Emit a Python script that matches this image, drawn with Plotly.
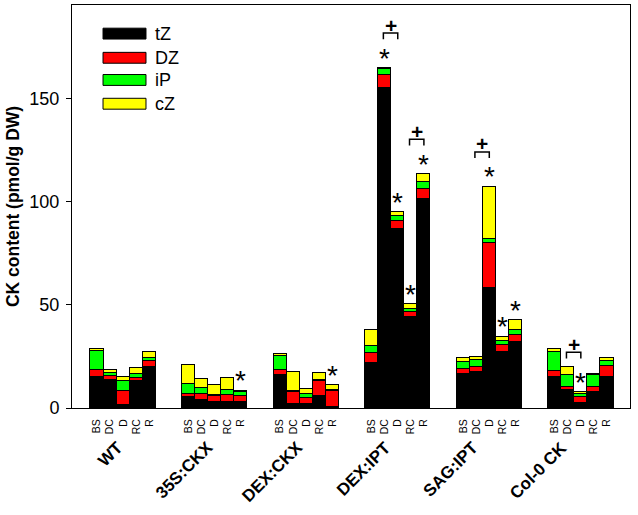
import plotly.graph_objects as go

# ---------------- data ----------------
groups = ["WT", "35S:CKX", "DEX:CKX", "DEX:IPT", "SAG:IPT", "Col-0 CK"]
samples = ["BS", "DC", "D", "RC", "R"]

tZ = [
    [15.0, 13.8, 1.6, 12.9, 19.7],
    [5.3, 3.7, 2.8, 2.8, 2.8],
    [16.2, 2.0, 2.1, 6.0, 0.5],
    [21.7, 155.2, 86.7, 44.3, 101.6],
    [16.5, 17.5, 58.1, 27.3, 32.2],
    [14.9, 8.7, 2.3, 7.9, 14.9],
]
DZ = [
    [3.6, 1.6, 6.5, 1.9, 2.9],
    [1.6, 3.2, 3.2, 3.7, 3.2],
    [2.1, 6.0, 2.8, 7.0, 7.9],
    [5.2, 6.5, 4.2, 2.4, 4.5],
    [2.3, 2.3, 21.8, 3.2, 3.2],
    [3.2, 1.6, 3.0, 2.4, 5.5],
]
iP = [
    [9.2, 1.6, 4.9, 1.8, 1.6],
    [4.9, 2.6, 0.5, 2.1, 1.6],
    [6.8, 0.3, 1.9, 0.6, 0.5],
    [3.2, 2.8, 2.2, 1.3, 3.7],
    [3.4, 3.4, 1.9, 1.9, 2.6],
    [9.2, 5.7, 1.6, 5.7, 2.4],
]
cZ = [
    [1.0, 1.6, 2.1, 2.8, 2.8],
    [8.9, 4.7, 4.9, 6.0, 0.8],
    [1.3, 9.2, 2.6, 3.2, 2.1],
    [7.8, 0.5, 2.0, 2.4, 3.6],
    [2.0, 1.7, 25.5, 2.2, 4.5],
    [1.1, 4.0, 0.8, 0.6, 1.3],
]
# significance marks: (group index, sample index)
stars = [(1, 4), (2, 4), (3, 1), (3, 2), (3, 3), (3, 4), (4, 2), (4, 3), (4, 4), (5, 2)]
# "+" brackets: (group index, sample i, sample j)
plus_pairs = [(3, 1, 2), (3, 3, 4), (4, 1, 2), (5, 1, 2)]

components = [("tZ", tZ, "#000000"), ("DZ", DZ, "#FF0000"),
              ("iP", iP, "#00FF00"), ("cZ", cZ, "#FFFF00")]

FONT = "Arial, 'Liberation Sans', sans-serif"
GROUP_STEP = 7
# horizontal nudge of each rotated group label (bar-width units, relative to group centre)
label_nudge = [0.46, 0.31, 0.26, 0.01, -0.34, -0.54]

def xpos(g, i):
    return GROUP_STEP * g + i

xs = [xpos(g, i) for g in range(len(groups)) for i in range(len(samples))]
ticktext = [s for g in groups for s in samples]
totals = {}
for g in range(len(groups)):
    for i in range(len(samples)):
        totals[(g, i)] = sum(c[1][g][i] for c in components)

fig = go.Figure()
for name, vals, col in components:
    fig.add_trace(go.Bar(
        x=xs, y=[v for row in vals for v in row], name=name, width=1,
        marker=dict(color=col, line=dict(color="black", width=1)),
        showlegend=False,
    ))

annotations = []
shapes = []

# asterisks
for g, i in stars:
    annotations.append(dict(x=xpos(g, i), y=totals[(g, i)], xref="x", yref="y",
                            text="*", showarrow=False, yanchor="middle", yshift=10,
                            font=dict(family=FONT, size=28, color="black")))

# brackets with "+"
for g, i, j in plus_pairs:
    level = max(totals[(g, k)] + (17 if (g, k) in stars else 7) for k in (i, j))
    x1, x2 = xpos(g, i) - 0.1, xpos(g, j)
    shapes.append(dict(type="path", xref="x", yref="y",
                       path=f"M{x1},{level-3} L{x1},{level} L{x2},{level} L{x2},{level-3}",
                       line=dict(color="black", width=1.5)))
    annotations.append(dict(x=(x1 + x2) / 2, y=level, xref="x", yref="y", text="<b>+</b>",
                            showarrow=False, yanchor="middle", yshift=8,
                            font=dict(family=FONT, size=21, color="black")))

# group labels
for g, name in enumerate(groups):
    annotations.append(dict(x=xpos(g, 2) + label_nudge[g], y=-0.067, xref="x", yref="paper",
                            text=f"<b>{name}</b>", showarrow=False, textangle=-45,
                            xanchor="right", yanchor="top",
                            font=dict(family=FONT, size=17, color="black")))

# legend (drawn manually to match long swatches)
leg_rows = [0.929, 0.869, 0.814, 0.755]
for (name, _, col), yc in zip(components, leg_rows):
    shapes.append(dict(type="rect", xref="paper", yref="paper",
                       x0=0.0556, x1=0.1326, y0=yc - 0.0135, y1=yc + 0.0135,
                       fillcolor=col, line=dict(color="black", width=1)))
    annotations.append(dict(x=0.146, y=yc, xref="paper", yref="paper", text=name,
                            showarrow=False, xanchor="left", yanchor="middle",
                            font=dict(family=FONT, size=18, color="black")))

fig.update_layout(
    width=638, height=515,
    margin=dict(l=72, r=8, t=5, b=107),
    paper_bgcolor="white", plot_bgcolor="white",
    barmode="stack", bargap=0,
    font=dict(family=FONT, color="black"),
    annotations=annotations, shapes=shapes,
    showlegend=False,
)
fig.update_xaxes(
    range=[-1.91, 40.76], tickmode="array", tickvals=xs, ticktext=ticktext,
    tickangle=-90, ticks="", tickfont=dict(family=FONT, size=10.5, color="black"),
    showline=True, linecolor="black", linewidth=1, mirror=True,
    showgrid=False, zeroline=False, ticklabelstandoff=6,
)
fig.update_yaxes(
    range=[0, 195.6], tickvals=[0, 50, 100, 150],
    ticks="outside", ticklen=5, tickcolor="black",
    tickfont=dict(family=FONT, size=18, color="black"),
    showline=True, linecolor="black", linewidth=1, mirror=True,
    showgrid=False, zeroline=False, ticklabelstandoff=3,
    title=dict(text="<b>CK content (pmol/g DW)</b>", standoff=5,
               font=dict(family=FONT, size=17.5, color="black")),
)

fig.write_html("out.html", config={"displayModeBar": False},
               post_script="document.body.style.margin='0';document.body.style.overflow='hidden';")
